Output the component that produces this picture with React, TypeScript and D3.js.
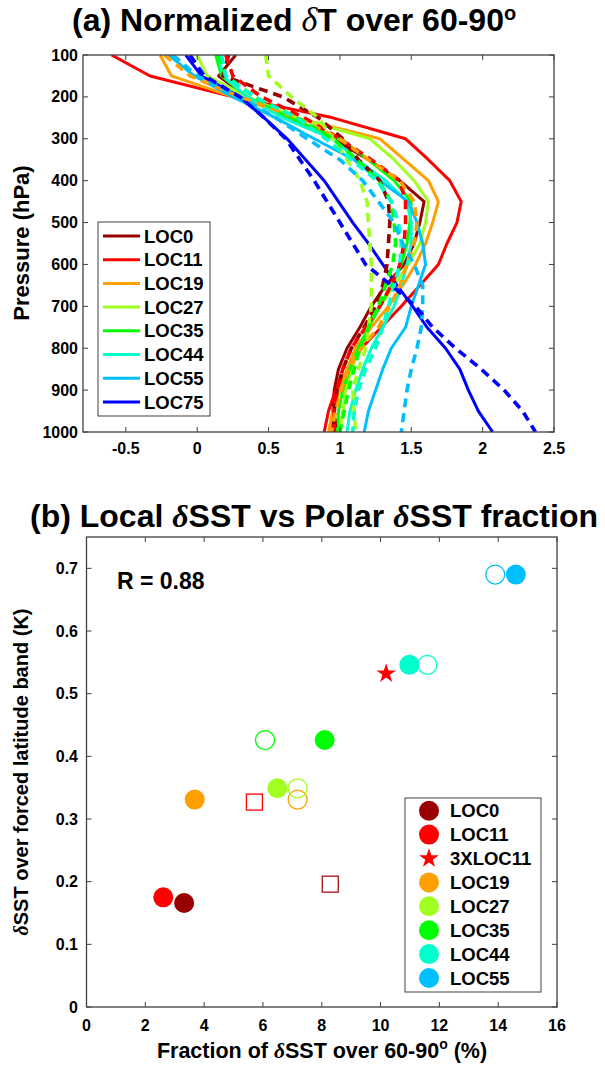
import React from "react";
import * as d3 from "d3";

// ---------- Panel (a) data ----------
const pressure = [100, 150, 200, 250, 300, 350, 400, 450, 500, 550, 600, 650, 700, 750, 800, 850, 900, 950, 1000];
const locNames = ["LOC0", "LOC11", "LOC19", "LOC27", "LOC35", "LOC44", "LOC55", "LOC75"];
const locColors = ["#990000", "#ff0000", "#ffa000", "#a0ff20", "#00ff00", "#00ffcc", "#00bfff", "#0000ff"];

const solidLOC0 = [0.27, 0.15, 0.35, 0.65, 0.95, 1.2, 1.42, 1.59, 1.56, 1.52, 1.45, 1.32, 1.22, 1.14, 1.05, 0.99, 0.96, 0.95, 0.95];
const solidLOC11 = [-0.6, -0.33, 0.25, 0.95, 1.46, 1.62, 1.77, 1.85, 1.82, 1.75, 1.69, 1.56, 1.43, 1.29, 1.15, 1.06, 0.97, 0.92, 0.89];
const solidLOC19 = [-0.26, -0.18, 0.25, 0.7, 1.28, 1.45, 1.62, 1.69, 1.65, 1.6, 1.53, 1.44, 1.34, 1.22, 1.11, 1.05, 1.0, 0.95, 0.92];
const solidLOC27 = [0.0, 0.07, 0.35, 0.7, 1.21, 1.38, 1.52, 1.62, 1.6, 1.56, 1.48, 1.38, 1.28, 1.2, 1.14, 1.08, 1.04, 1.02, 1.0];
const solidLOC35 = [0.13, 0.17, 0.35, 0.65, 1.0, 1.2, 1.38, 1.5, 1.49, 1.47, 1.43, 1.36, 1.28, 1.2, 1.13, 1.07, 1.02, 0.99, 0.98];
const solidLOC44 = [0.15, 0.18, 0.35, 0.6, 0.95, 1.12, 1.32, 1.47, 1.5, 1.5, 1.47, 1.43, 1.38, 1.3, 1.22, 1.16, 1.11, 1.07, 1.05];
const solidLOC55 = [-0.2, -0.02, 0.25, 0.55, 0.82, 1.1, 1.28, 1.48, 1.54, 1.58, 1.6, 1.55, 1.5, 1.46, 1.36, 1.3, 1.25, 1.2, 1.17];
const solidLOC75 = [-0.08, 0.03, 0.3, 0.47, 0.63, 0.76, 0.89, 0.99, 1.09, 1.2, 1.3, 1.4, 1.51, 1.61, 1.74, 1.84, 1.9, 1.97, 2.07];

const dashLOC0 = [0.22, 0.18, 0.6, 0.85, 1.02, 1.13, 1.28, 1.34, 1.35, 1.34, 1.33, 1.3, 1.25, 1.17, 1.08, 1.02, 0.98, 0.96, 0.97];
const dashLOC11 = [0.2, 0.25, 0.45, 0.75, 1.0, 1.22, 1.42, 1.46, 1.46, 1.45, 1.42, 1.36, 1.28, 1.18, 1.08, 1.02, 0.98, 0.96, 0.96];
const dashLOC19 = [-0.23, -0.05, 0.3, 0.7, 1.0, 1.2, 1.42, 1.52, 1.54, 1.52, 1.47, 1.42, 1.35, 1.27, 1.15, 1.06, 1.01, 0.97, 0.94];
const dashLOC27 = [0.48, 0.5, 0.66, 0.85, 0.95, 1.05, 1.14, 1.19, 1.2, 1.21, 1.22, 1.22, 1.22, 1.2, 1.18, 1.13, 1.09, 1.1, 1.11];
const dashLOC35 = [0.15, 0.2, 0.4, 0.7, 0.95, 1.12, 1.27, 1.36, 1.38, 1.39, 1.37, 1.32, 1.27, 1.2, 1.14, 1.1, 1.06, 1.03, 1.0];
const dashLOC44 = [0.17, 0.2, 0.4, 0.7, 0.9, 1.08, 1.26, 1.36, 1.41, 1.43, 1.42, 1.38, 1.34, 1.3, 1.25, 1.18, 1.13, 1.1, 1.09];
const dashLOC55 = [-0.17, 0.0, 0.3, 0.55, 0.77, 1.0, 1.16, 1.27, 1.38, 1.44, 1.52, 1.58, 1.58, 1.57, 1.54, 1.5, 1.47, 1.45, 1.43];
const dashLOC75 = [-0.05, 0.05, 0.3, 0.47, 0.62, 0.72, 0.82, 0.91, 1.0, 1.09, 1.18, 1.36, 1.53, 1.65, 1.81, 1.99, 2.15, 2.28, 2.37];

const solidSeries = [solidLOC0, solidLOC11, solidLOC19, solidLOC27, solidLOC35, solidLOC44, solidLOC55, solidLOC75];
const dashSeries = [dashLOC0, dashLOC11, dashLOC19, dashLOC27, dashLOC35, dashLOC44, dashLOC55, dashLOC75];

const xTicksA = [-0.5, 0, 0.5, 1, 1.5, 2, 2.5];
const yTicksA = [100, 200, 300, 400, 500, 600, 700, 800, 900, 1000];

// ---------- Panel (b) data ----------
const filledNames = ["LOC0", "LOC11", "LOC19", "LOC27", "LOC35", "LOC44", "LOC55"];
const filledColors = ["#990000", "#ff0000", "#ffa000", "#a0ff20", "#00ff00", "#00ffcc", "#00bfff"];
const filledX = [3.32, 2.61, 3.68, 6.49, 8.1, 10.98, 14.6];
const filledY = [0.166, 0.175, 0.331, 0.349, 0.426, 0.546, 0.69];

const openNames = ["LOC19", "LOC27", "LOC35", "LOC44", "LOC55"];
const openColors = ["#ffa000", "#a0ff20", "#00ff00", "#00ffcc", "#00bfff"];
const openX = [7.18, 7.18, 6.07, 11.59, 13.9];
const openY = [0.331, 0.349, 0.426, 0.546, 0.69];

const squareColors = ["#ff0000", "#aa1010"];
const squareX = [5.71, 8.29];
const squareY = [0.327, 0.196];

const starX = [10.19];
const starY = [0.532];

const legendBNames = ["LOC0", "LOC11", "3XLOC11", "LOC19", "LOC27", "LOC35", "LOC44", "LOC55"];
const legendBColors = ["#990000", "#ff0000", "#ff0000", "#ffa000", "#a0ff20", "#00ff00", "#00ffcc", "#00bfff"];
const legendBShapes = ["circle", "circle", "star", "circle", "circle", "circle", "circle", "circle"];

const xTicksB = [0, 2, 4, 6, 8, 10, 12, 14, 16];
const yTicksB = [0, 0.1, 0.2, 0.3, 0.4, 0.5, 0.6, 0.7];

const FONT = "'Liberation Sans', Arial, Helvetica, sans-serif";
const SERIF = "'Liberation Serif', 'DejaVu Serif', serif";
const AXIS = "#404040";

export default function App() {
  // Panel (a) scales
  const xa = d3.scaleLinear().domain([-0.8, 2.5]).range([83, 554]);
  const ya = d3.scaleLinear().domain([100, 1000]).range([55, 432]);
  const line = d3
    .line<number>()
    .x((d) => xa(d))
    .y((_, i) => ya(pressure[i]));

  // Panel (b) scales
  const xb = d3.scaleLinear().domain([0, 16]).range([86.5, 557]);
  const yb = d3.scaleLinear().domain([0, 0.75]).range([1007, 537]);
  const star = d3.symbol().type(d3.symbolStar).size(120)();

  const [ax0, ax1] = xa.range();
  const [ay0, ay1] = ya.range();
  const [bx0, bx1] = xb.range();
  const [by1, by0] = yb.range();
  const tl = 5;

  return (
    <svg width={605} height={1070} style={{ position: "absolute", left: 0, top: 0, background: "#fff" }} fontFamily={FONT}>
      <defs>
        <clipPath id="clipA">
          <rect x={ax0} y={ay0} width={ax1 - ax0} height={ay1 - ay0} />
        </clipPath>
      </defs>
      <rect x={0} y={0} width={605} height={1070} fill="#fff" />

      {/* ---------- Panel (a) ---------- */}
      <text x={72} y={31} fontSize={32} fontWeight="bold">
        (a) Normalized{"  "}
        <tspan fontFamily={SERIF} fontStyle="italic" fontWeight="normal" fontSize={34}>δ</tspan>
        <tspan>T over 60-90</tspan>
        <tspan dy={-11} fontSize={20}>o</tspan>
      </text>

      <g clipPath="url(#clipA)">
        {solidSeries.map((s, i) => (
          <path key={"s" + i} d={line(s) || ""} fill="none" stroke={locColors[i]} strokeWidth={3} strokeLinejoin="round" />
        ))}
        {dashSeries.map((s, i) => (
          <path key={"d" + i} d={line(s) || ""} fill="none" stroke={locColors[i]} strokeWidth={3.6} strokeDasharray="9,6" />
        ))}
      </g>

      {/* axes box a */}
      <rect x={ax0} y={ay0} width={ax1 - ax0} height={ay1 - ay0} fill="none" stroke={AXIS} strokeWidth={1.3} />
      {xTicksA.map((t) => (
        <g key={"xa" + t}>
          <line x1={xa(t)} x2={xa(t)} y1={ay1} y2={ay1 - tl} stroke={AXIS} />
          <line x1={xa(t)} x2={xa(t)} y1={ay0} y2={ay0 + tl} stroke={AXIS} />
          <text x={xa(t)} y={454} fontSize={16} fontWeight="bold" textAnchor="middle">{String(t)}</text>
        </g>
      ))}
      {yTicksA.map((t) => (
        <g key={"ya" + t}>
          <line x1={ax0} x2={ax0 + tl} y1={ya(t)} y2={ya(t)} stroke={AXIS} />
          <line x1={ax1} x2={ax1 - tl} y1={ya(t)} y2={ya(t)} stroke={AXIS} />
          <text x={78} y={ya(t)} dy="0.35em" fontSize={16} fontWeight="bold" textAnchor="end">{String(t)}</text>
        </g>
      ))}
      <text transform={`translate(29,243) rotate(-90)`} fontSize={22} fontWeight="bold" textAnchor="middle">Pressure (hPa)</text>

      {/* legend a */}
      <rect x={98} y={222} width={112} height={194} fill="#fff" stroke={AXIS} strokeWidth={1} />
      {locNames.map((n, i) => {
        const y = 236 + i * 23.7;
        return (
          <g key={"la" + n}>
            <line x1={103} x2={140} y1={y} y2={y} stroke={locColors[i]} strokeWidth={3} />
            <text x={144} y={y} dy="0.36em" fontSize={18.5} fontWeight="bold">{n}</text>
          </g>
        );
      })}

      {/* ---------- Panel (b) ---------- */}
      <text x={30} y={527} fontSize={32} fontWeight="bold">
        (b) Local <tspan fontFamily={SERIF} fontStyle="italic" fontWeight="bold">δ</tspan>SST vs Polar{" "}
        <tspan fontFamily={SERIF} fontStyle="italic" fontWeight="bold">δ</tspan>SST fraction
      </text>

      <rect x={bx0} y={by0} width={bx1 - bx0} height={by1 - by0} fill="none" stroke={AXIS} strokeWidth={1.3} />
      {xTicksB.map((t) => (
        <g key={"xb" + t}>
          <line x1={xb(t)} x2={xb(t)} y1={by1} y2={by1 - tl} stroke={AXIS} />
          <line x1={xb(t)} x2={xb(t)} y1={by0} y2={by0 + tl} stroke={AXIS} />
          <text x={xb(t)} y={1031} fontSize={16} fontWeight="bold" textAnchor="middle">{String(t)}</text>
        </g>
      ))}
      {yTicksB.map((t) => (
        <g key={"yb" + t}>
          <line x1={bx0} x2={bx0 + tl} y1={yb(t)} y2={yb(t)} stroke={AXIS} />
          <line x1={bx1} x2={bx1 - tl} y1={yb(t)} y2={yb(t)} stroke={AXIS} />
          <text x={78} y={yb(t)} dy="0.35em" fontSize={16} fontWeight="bold" textAnchor="end">{String(t)}</text>
        </g>
      ))}
      <text transform={`translate(28,772) rotate(-90)`} fontSize={20} fontWeight="bold" textAnchor="middle">
        <tspan fontFamily={SERIF} fontStyle="italic">δ</tspan>SST over forced latitude band (K)
      </text>
      <text x={322} y={1058} fontSize={21.5} fontWeight="bold" textAnchor="middle">
        Fraction of <tspan fontFamily={SERIF} fontStyle="italic">δ</tspan>SST over 60-90<tspan dy={-9} fontSize={14}>o</tspan>
        <tspan dy={9}> (%)</tspan>
      </text>

      <text x={117} y={589} fontSize={23} fontWeight="bold">R = 0.88</text>

      {squareX.map((x, i) => (
        <rect key={"sq" + i} x={xb(x) - 8} y={yb(squareY[i]) - 8} width={16} height={16} fill="none" stroke={squareColors[i]} strokeWidth={1.3} />
      ))}
      {openX.map((x, i) => (
        <circle key={"oc" + i} cx={xb(x)} cy={yb(openY[i])} r={9.5} fill="none" stroke={openColors[i]} strokeWidth={1.3} />
      ))}
      {filledX.map((x, i) => (
        <circle key={"fc" + i} cx={xb(x)} cy={yb(filledY[i])} r={10} fill={filledColors[i]} />
      ))}
      {starX.map((x, i) => (
        <path key={"st" + i} d={star || ""} transform={`translate(${xb(x)},${yb(starY[i])})`} fill="#ff0000" />
      ))}

      {/* legend b */}
      <rect x={405} y={798} width={136} height={194} fill="#fff" stroke={AXIS} strokeWidth={1} />
      {legendBNames.map((n, i) => {
        const y = 810.7 + i * 23.9;
        return (
          <g key={"lb" + n}>
            {legendBShapes[i] === "circle" ? (
              <circle cx={429} cy={y} r={10} fill={legendBColors[i]} />
            ) : (
              <path d={star || ""} transform={`translate(429,${y})`} fill={legendBColors[i]} />
            )}
            <text x={450} y={y} dy="0.36em" fontSize={18.5} fontWeight="bold">{n}</text>
          </g>
        );
      })}
    </svg>
  );
}
